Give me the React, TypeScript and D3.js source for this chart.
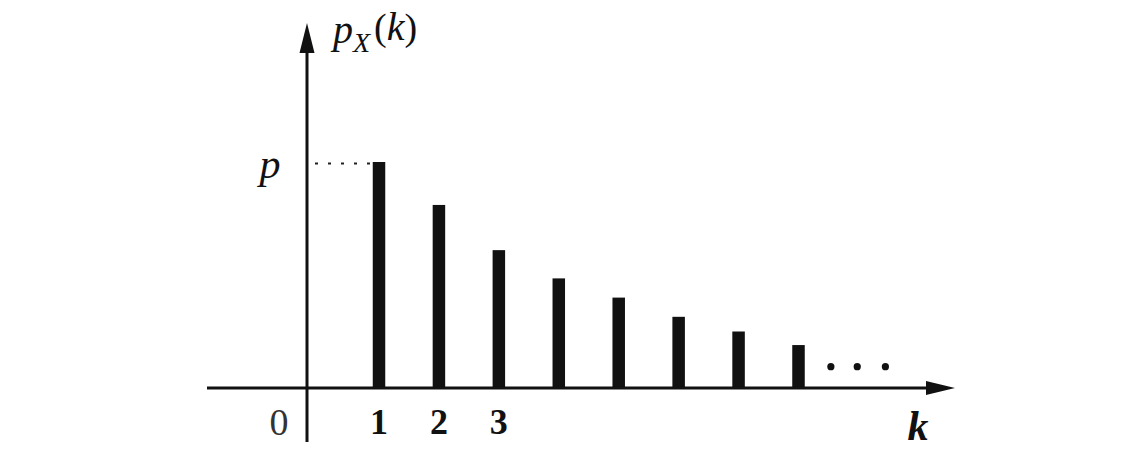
import React from "react";
import * as d3 from "d3";

const ks = [1, 2, 3, 4, 5, 6, 7, 8];
const pmf = [0.2, 0.162, 0.122, 0.097, 0.08, 0.063, 0.05, 0.038];
const tickKs = [1, 2, 3];
const tickLabels = ["1", "2", "3"];
const ellipsisKs = [8.54, 8.98, 9.45];
const pValue = 0.2;

const W = 1130;
const H = 476;

export default function App() {
  const x = d3.scaleLinear().domain([1, 8]).range([379, 798.5]);
  const y = d3.scaleLinear().domain([0, 0.2]).range([388, 162]);
  const axisX = 307;
  const axisY = y(0);
  const barW = 12.5;
  const serif = "'Liberation Serif', 'DejaVu Serif', serif";
  const ellipsisY = y(0.0189);

  return (
    <svg
      width={W}
      height={H}
      style={{ position: "absolute", left: 0, top: 0, display: "block", background: "#fff" }}
    >
      {/* bars */}
      {ks.map((k, i) => (
        <rect
          key={k}
          x={x(k) - barW / 2}
          y={y(pmf[i])}
          width={barW}
          height={axisY - y(pmf[i])}
          fill="#111"
        />
      ))}
      {/* x axis */}
      <line x1={207} x2={928} y1={axisY} y2={axisY} stroke="#111" strokeWidth={3.2} />
      <path d={`M926,${axisY - 7} L955,${axisY} L926,${axisY + 7} Z`} fill="#111" />
      {/* y axis */}
      <line x1={axisX} x2={axisX} y1={50} y2={442} stroke="#111" strokeWidth={3} />
      <path d={`M${axisX - 7.5},53 L${axisX},23 L${axisX + 7.5},53 Z`} fill="#111" />
      {/* dotted p line */}
      <line
        x1={315}
        x2={x(1) - barW / 2}
        y1={y(pValue) + 1.5}
        y2={y(pValue) + 1.5}
        stroke="#222"
        strokeWidth={2}
        strokeDasharray="3,10"
      />
      {/* ellipsis */}
      {ellipsisKs.map((k) => (
        <circle key={k} cx={x(k)} cy={ellipsisY} r={3.6} fill="#111" />
      ))}
      {/* tick labels */}
      {tickKs.map((k, i) => (
        <text
          key={k}
          x={x(k)}
          y={434}
          textAnchor="middle"
          fontFamily={serif}
          fontWeight="bold"
          fontSize={36}
          fill="#111"
        >
          {tickLabels[i]}
        </text>
      ))}
      <text x={279} y={435} textAnchor="middle" fontFamily={serif} fontSize={38} fill="#333">
        0
      </text>
      {/* k label */}
      <text x={918} y={440} textAnchor="middle" fontFamily={serif} fontStyle="italic" fontWeight="600" fontSize={42} fill="#111">
        k
      </text>
      {/* p label */}
      <text x={270} y={178} textAnchor="middle" fontFamily={serif} fontStyle="italic" fontSize={42} fill="#111">
        p
      </text>
      {/* p_X(k) label */}
      <text x={333} y={43} fontFamily={serif} fontStyle="italic" fontSize={40} fill="#111">
        p
        <tspan fontSize={28} dy={9}>X</tspan>
        <tspan fontStyle="normal" fontSize={38} dy={-12} dx={4}>(</tspan>
        <tspan>k</tspan>
        <tspan fontStyle="normal" fontSize={38}>)</tspan>
      </text>
    </svg>
  );
}
